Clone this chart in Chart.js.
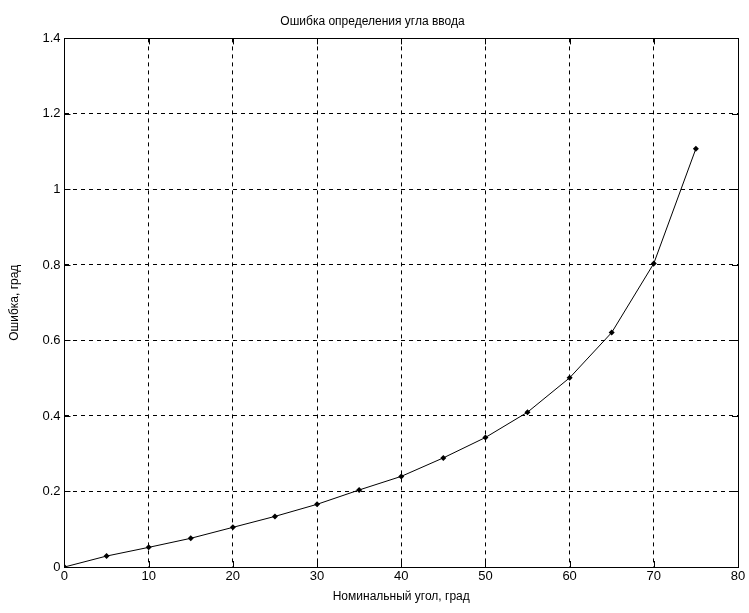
<!DOCTYPE html>
<html>
<head>
<meta charset="utf-8">
<script src="https://cdn.jsdelivr.net/npm/chart.js@4/dist/chart.umd.min.js"></script>
<style>
  html, body { margin: 0; padding: 0; background: #fff; }
  #myCanvas { display: block; }
</style>
</head>
<body>
<canvas id="myCanvas" width="749" height="613"></canvas>
<script>
// номинальный угол, град
let angles = [0, 5, 10, 15, 20, 25, 30, 35, 40, 45, 50, 55, 60, 65, 70, 75]
// ошибка, град
let errors = [0, 0.029, 0.052, 0.076, 0.105, 0.134, 0.166, 0.204, 0.240, 0.289, 0.343, 0.410, 0.501, 0.621, 0.804, 1.108]

let xTicks = [0, 10, 20, 30, 40, 50, 60, 70, 80]
let yTicks = [0, 0.2, 0.4, 0.6, 0.8, 1, 1.2, 1.4]

let titleText = 'Ошибка определения угла ввода'
let xTitle = 'Номинальный угол, град'
let yTitle = 'Ошибка, град'

let fontFamily = '"Liberation Sans", Arial, sans-serif'

// рамка и внутренние засечки как в MATLAB
let boxPlugin = {
    id: 'box',
    afterDraw(chart) {
        let ctx = chart.ctx
        let a = chart.chartArea
        let xs = chart.scales.x
        let ys = chart.scales.y
        ctx.save()
        ctx.strokeStyle = '#000'
        ctx.lineWidth = 1
        ctx.setLineDash([])
        ctx.beginPath()
        xTicks.forEach(v => {
            let px = Math.round(xs.getPixelForValue(v)) + 0.5
            ctx.moveTo(px, a.bottom); ctx.lineTo(px, a.bottom - 6)
            ctx.moveTo(px, a.top); ctx.lineTo(px, a.top + 6)
        })
        yTicks.forEach(v => {
            let py = Math.round(ys.getPixelForValue(v)) + 0.5
            ctx.moveTo(a.left, py); ctx.lineTo(a.left + 6, py)
            ctx.moveTo(a.right, py); ctx.lineTo(a.right - 6, py)
        })
        ctx.stroke()
        ctx.strokeRect(Math.round(a.left) + 0.5, Math.round(a.top) + 0.5,
            Math.round(a.right - a.left), Math.round(a.bottom - a.top))
        ctx.restore()
    }
}

let grafic = document.querySelector('#myCanvas').getContext('2d')
let myChart = new Chart(grafic, {
    type: 'line',
    data: {
        datasets: [{
            label: yTitle,
            data: angles.map((x, i) => ({x: x, y: errors[i]})),
            borderColor: '#000',
            backgroundColor: '#000',
            borderWidth: 1,
            pointStyle: 'rectRot',
            pointRadius: 3,
            pointBorderWidth: 0,
            tension: 0,
            fill: false
        }]
    },
    options: {
        responsive: false,
        animation: false,
        layout: {
            padding: {left: 7, right: 11, top: 3, bottom: 9}
        },
        scales: {
            x: {
                type: 'linear',
                min: 0,
                max: 80,
                afterBuildTicks: s => { s.ticks = xTicks.map(v => ({value: v})) },
                grid: {color: '#000', lineWidth: 1, drawTicks: false},
                border: {display: true, color: '#000', dash: [4, 4]},
                ticks: {
                    color: '#000',
                    padding: 2,
                    maxRotation: 0,
                    font: {family: fontFamily, size: 13}
                },
                title: {
                    display: true,
                    text: xTitle,
                    color: '#000',
                    padding: {top: 3, bottom: 0},
                    font: {family: fontFamily, size: 12}
                }
            },
            y: {
                type: 'linear',
                min: 0,
                max: 1.4,
                afterBuildTicks: s => { s.ticks = yTicks.map(v => ({value: v})) },
                grid: {color: '#000', lineWidth: 1, drawTicks: false},
                border: {display: true, color: '#000', dash: [4, 4]},
                ticks: {
                    color: '#000',
                    padding: 4,
                    callback: v => String(+v.toFixed(1)),
                    font: {family: fontFamily, size: 13}
                },
                title: {
                    display: true,
                    text: yTitle,
                    color: '#000',
                    padding: {top: 0, bottom: 17},
                    font: {family: fontFamily, size: 12}
                }
            }
        },
        plugins: {
            legend: {display: false},
            tooltip: {enabled: false},
            title: {
                display: true,
                text: titleText,
                color: '#000',
                padding: {top: 11, bottom: 10},
                font: {family: fontFamily, size: 12, weight: 'normal'}
            }
        }
    },
    plugins: [boxPlugin]
})
</script>
</body>
</html>
